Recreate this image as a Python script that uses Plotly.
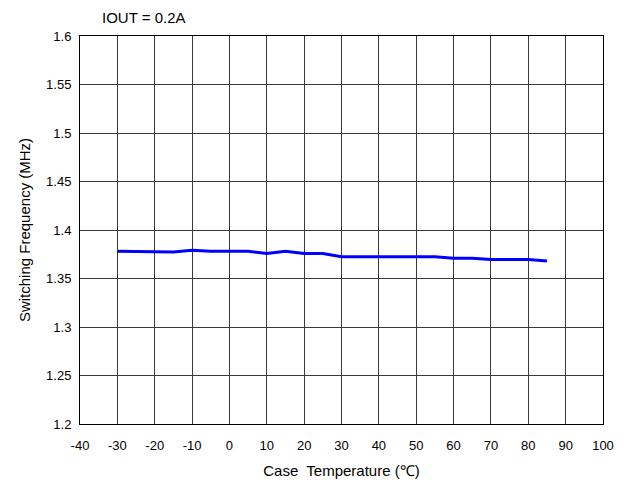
import plotly.graph_objects as go

# case temperature (C) and switching frequency (MHz)
temp = [-30, -25, -20, -15, -10, -5, 0, 5, 10, 15, 20, 25,
        30, 35, 40, 45, 50, 55, 60, 65, 70, 75, 80, 85]
freq = [1.378, 1.378, 1.3773, 1.3773, 1.3792, 1.378, 1.378, 1.378, 1.3757, 1.378, 1.3757, 1.3757,
        1.3724, 1.3724, 1.3724, 1.3724, 1.3724, 1.3724, 1.371, 1.371, 1.3695, 1.3695, 1.3695, 1.368]

x_ticks = list(range(-40, 101, 10))
x_labels = [str(v) for v in x_ticks]  # plain hyphen minus, like the original
y_ticks = [1.2, 1.25, 1.3, 1.35, 1.4, 1.45, 1.5, 1.55, 1.6]
y_labels = ["1.2", "1.25", "1.3", "1.35", "1.4", "1.45", "1.5", "1.55", "1.6"]

fig = go.Figure()
fig.add_trace(go.Scatter(
    x=temp, y=freq, mode="lines",
    line=dict(color="#0000ff", width=3),
    showlegend=False,
))

# page body adds 8px offset, so the figure is a bit smaller
fig.update_layout(
    width=622, height=478,
    margin=dict(l=72, r=27, t=28, b=62),
    paper_bgcolor="white", plot_bgcolor="white",
    font=dict(family="Liberation Sans, Arial", size=13, color="black"),
    annotations=[dict(
        text="IOUT = 0.2A", xref="paper", yref="paper", x=0.038, y=1.0,
        yshift=8, xanchor="left", yanchor="bottom", showarrow=False,
        font=dict(size=15),
    )],
)
fig.update_xaxes(
    range=[-40, 100], tickvals=x_ticks, ticktext=x_labels, ticks="",
    ticklabelstandoff=9, automargin=False, showgrid=True,
    gridcolor="#3a3a3a", gridwidth=1, showline=True, linecolor="black",
    linewidth=1, mirror=True, zeroline=False,
    title=dict(text="Case  Temperature (℃)", font=dict(size=15), standoff=13),
)
fig.update_yaxes(
    range=[1.2, 1.6], tickvals=y_ticks, ticktext=y_labels, ticks="",
    ticklabelstandoff=5, automargin=False,
    showgrid=True, gridcolor="#3a3a3a", gridwidth=1, showline=True,
    linecolor="black", linewidth=1, mirror=True, zeroline=False,
    title=dict(text="Switching Frequency (MHz)", font=dict(size=15), standoff=11),
)

fig.write_html("out.html")
